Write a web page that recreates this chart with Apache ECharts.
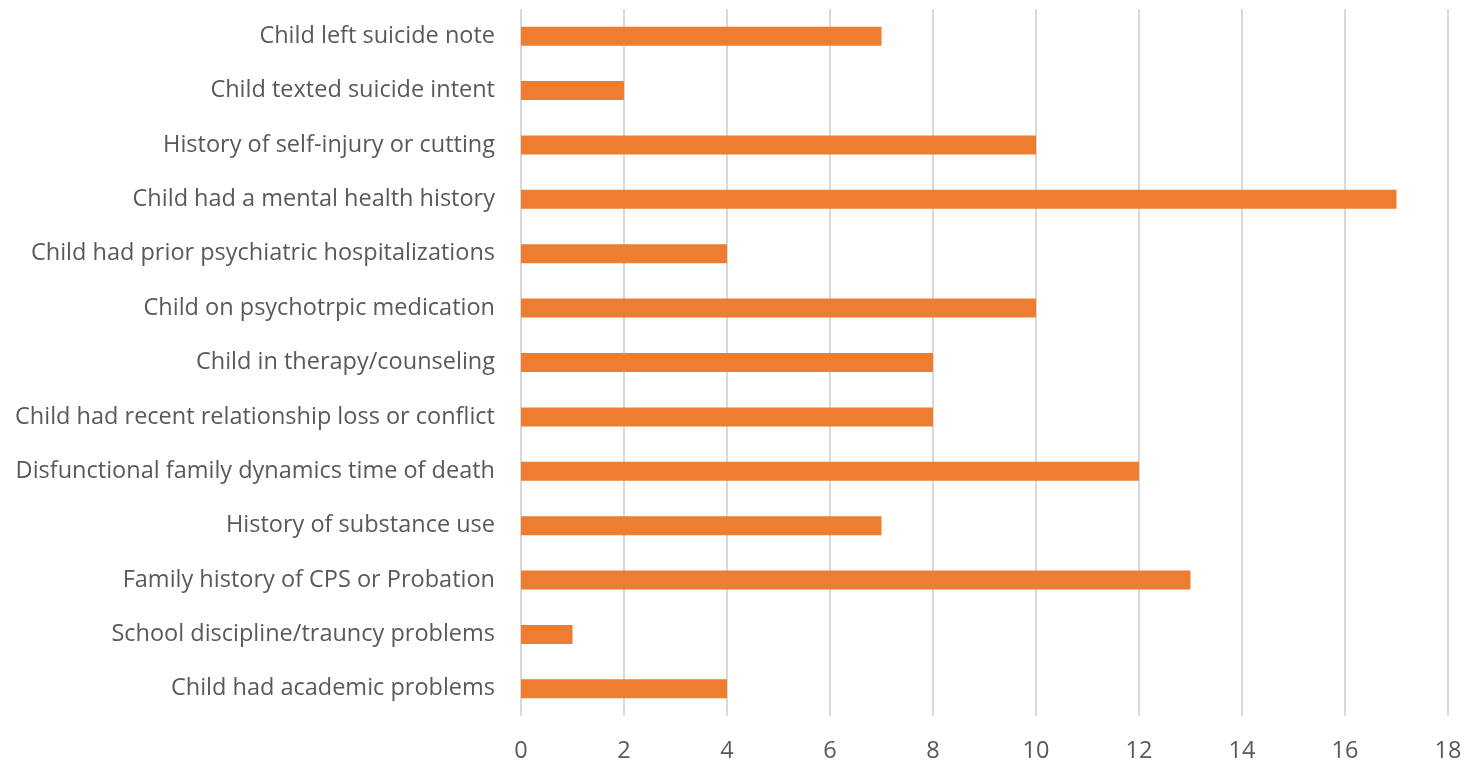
<!DOCTYPE html>
<html><head><meta charset="utf-8">
<script src="https://cdn.jsdelivr.net/npm/echarts@6/dist/echarts.min.js"></script>
<style>html,body{margin:0;padding:0;background:#fff}#c{width:1480px;height:765px}</style>
</head><body><div id="c"></div>
<script>
const categories = [
  "Child had academic problems",
  "School discipline/trauncy problems",
  "Family history of CPS or Probation",
  "History of substance use",
  "Disfunctional family dynamics time of death",
  "Child had recent relationship loss or conflict",
  "Child in therapy/counseling",
  "Child on psychotrpic medication",
  "Child had prior psychiatric hospitalizations",
  "Child had a mental health history",
  "History of self-injury or cutting",
  "Child texted suicide intent",
  "Child left suicide note"
];
const values = [4, 1, 13, 7, 12, 8, 8, 10, 4, 17, 10, 2, 7];
const xTicks = [0, 2, 4, 6, 8, 10, 12, 14, 16, 18];

const chart = echarts.init(document.getElementById('c'), null, {renderer: 'canvas'});
chart.setOption({
  animation: false,
  grid: {left: 521, right: 32, top: 9, bottom: 49, containLabel: false},
  xAxis: {
    type: 'value', min: 0, max: 18, interval: 2,
    axisLine: {show: false}, axisTick: {show: false},
    splitLine: {show: true, lineStyle: {color: '#d9d9d9', width: 2}},
    axisLabel: {color: '#595959', fontSize: 23.5, fontFamily: 'Open Sans', margin: 23,
      formatter: v => xTicks.includes(v) ? String(v) : ''}
  },
  yAxis: {
    type: 'category', data: categories,
    axisLine: {show: false}, axisTick: {show: false},
    axisLabel: {color: '#595959', fontSize: 23.5, fontFamily: 'Open Sans', margin: 26, padding: [4, 0, 0, 0]}
  },
  series: [{
    type: 'bar', data: values, barWidth: 19,
    itemStyle: {color: '#ED7D31'}
  }]
});
</script></body></html>
